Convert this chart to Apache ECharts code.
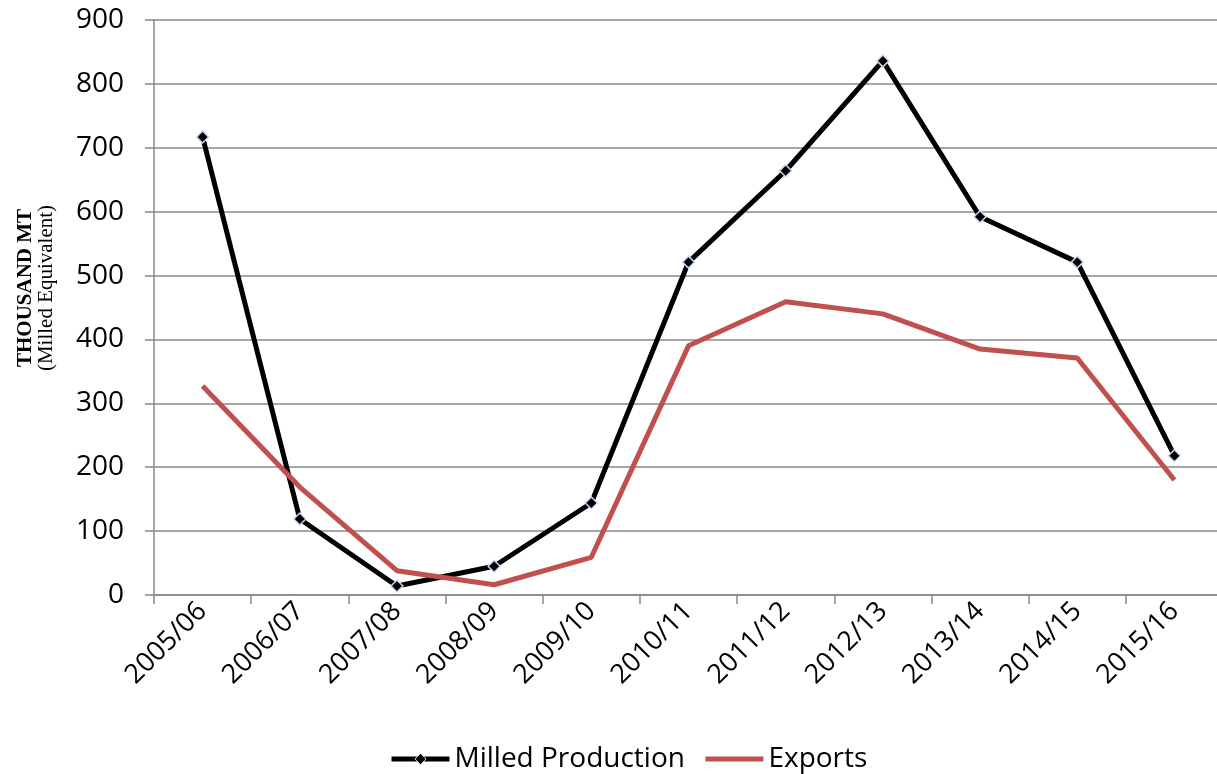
<!DOCTYPE html>
<html><head><meta charset="utf-8">
<script src="https://cdn.jsdelivr.net/npm/echarts@6/dist/echarts.min.js"></script>
<style>html,body{margin:0;padding:0;background:#fff;overflow:hidden}#c{width:1226px;height:774px}</style>
</head><body><div id="c"></div>
<script>
const categories = ['2005/06','2006/07','2007/08','2008/09','2009/10','2010/11','2011/12','2012/13','2013/14','2014/15','2015/16'];
const milledProduction = [717, 119, 14, 45, 144, 521, 664, 836, 592, 521, 218];
const exportsData = [327, 169, 38, 16, 59, 390, 459, 440, 385, 371, 180];
const yTicks = [0, 100, 200, 300, 400, 500, 600, 700, 800, 900];

const chart = echarts.init(document.getElementById('c'));
const font = '"Open Sans", sans-serif';
chart.setOption({
  animation: false,
  grid: { left: 154, top: 20, width: 1069, height: 575, containLabel: false },
  legend: {
    top: 740, left: 384, itemWidth: 58, itemHeight: 14, itemGap: 18,
    textStyle: { fontSize: 28, color: '#000', fontFamily: font },
    data: [
      { name: 'Milled Production', itemStyle: { color: '#000', borderColor: '#c6d9f1', borderWidth: 1 }, lineStyle: { color: '#000', width: 5 } },
      { name: 'Exports', itemStyle: { opacity: 0 }, lineStyle: { color: '#c0504d', width: 5 } }
    ]
  },
  graphic: [{
    type: 'text', x: 36, y: 288, rotation: Math.PI / 2,
    style: {
      text: '{b|THOUSAND MT}\n{n|(Milled Equivalent)}',
      align: 'center', verticalAlign: 'middle',
      rich: {
        b: { fontFamily: '"Liberation Serif", serif', fontWeight: 'bold', fontSize: 21, fill: '#000', lineHeight: 21 },
        n: { fontFamily: '"Liberation Serif", serif', fontSize: 21, fill: '#000', lineHeight: 21 }
      }
    }
  }],
  xAxis: {
    type: 'category', data: categories, boundaryGap: true,
    axisLine: { lineStyle: { color: '#888', width: 1.5 } },
    axisTick: { show: true, length: 9, lineStyle: { color: '#888', width: 1.5 } },
    axisLabel: { rotate: 45, fontSize: 27, color: '#000', fontFamily: font, margin: 12, interval: 0 }
  },
  yAxis: {
    type: 'value', min: 0, max: 900, interval: 100,
    axisLine: { show: true, lineStyle: { color: '#888', width: 1.5 } },
    axisTick: { show: true, length: 9, lineStyle: { color: '#888', width: 1.5 } },
    splitLine: { lineStyle: { color: '#888', width: 1.5 } },
    axisLabel: { fontSize: 28, color: '#000', fontFamily: font, margin: 30,
      formatter: v => yTicks.includes(v) ? String(v) : '' }
  },
  series: [
    { name: 'Milled Production', type: 'line', data: milledProduction,
      symbol: 'diamond', symbolSize: 12, showAllSymbol: true,
      lineStyle: { color: '#000', width: 5 },
      itemStyle: { color: '#000', borderColor: '#c6d9f1', borderWidth: 1.5 } },
    { name: 'Exports', type: 'line', data: exportsData, symbol: 'none',
      lineStyle: { color: '#c0504d', width: 5 },
      itemStyle: { color: '#c0504d' } }
  ]
});
</script></body></html>
